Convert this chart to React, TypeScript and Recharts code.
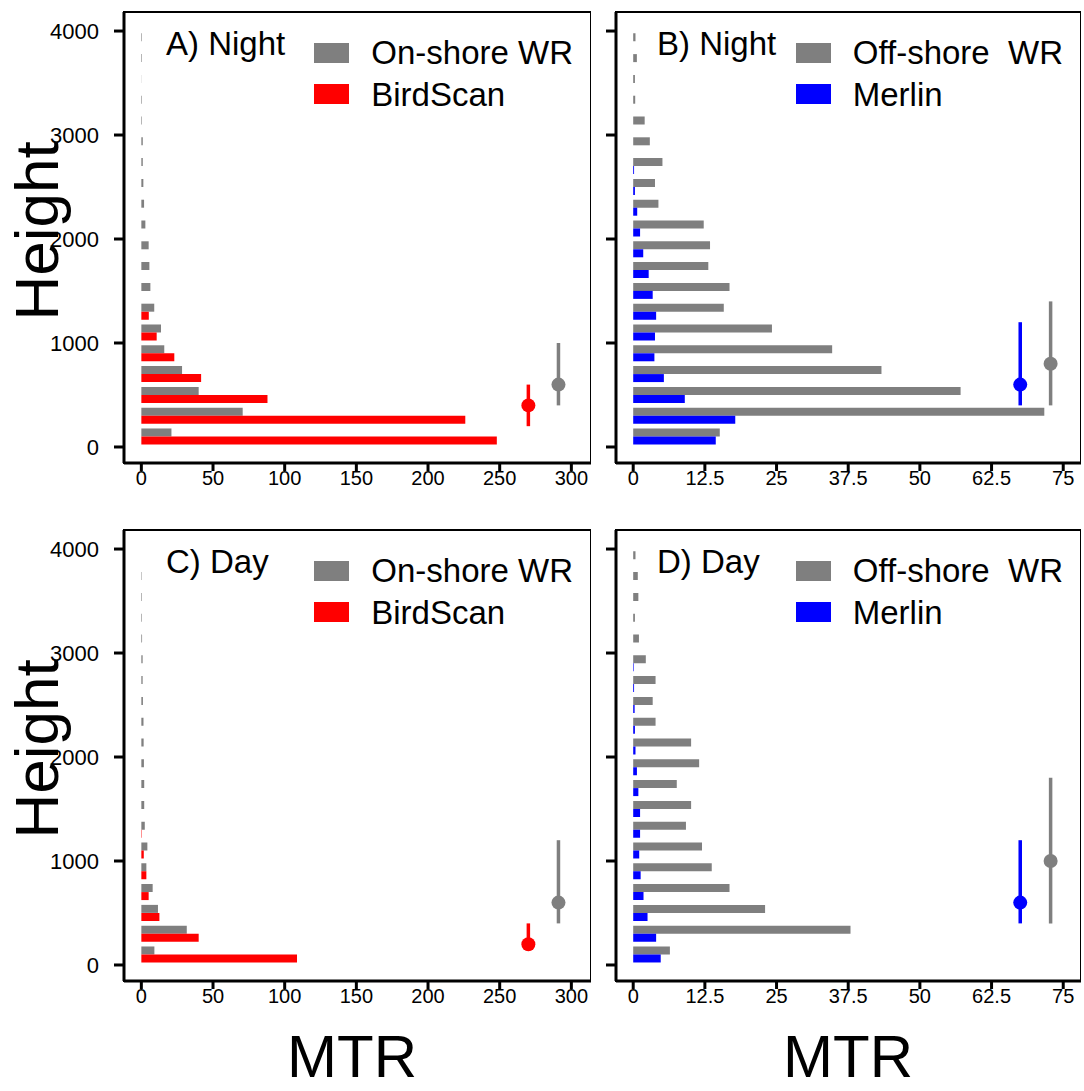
import React from "react";
import {
  Bar,
  ComposedChart,
  ErrorBar,
  Legend,
  ReferenceArea,
  Scatter,
  XAxis,
  YAxis,
} from "recharts";

// 200 m altitude bins, labelled by their mid height (m)
const bins = [100, 300, 500, 700, 900, 1100, 1300, 1500, 1700, 1900, 2100, 2300, 2500, 2700, 2900, 3100, 3300, 3500, 3700, 3900];
const BIN_SIZE = 200;

// MTR per bin, lowest bin first
const nightOnshore = [21, 70.7, 40, 28.4, 16, 13.7, 9, 6.3, 5.6, 5.1, 2.8, 1.9, 1.4, 1.0, 1.0, 0.4, 0.4, 0.1, 0.4, 0.4];
const nightBirdScan = [248, 226, 88, 41.7, 23, 10.7, 5.2, 0, 0, 0, 0, 0, 0, 0, 0, 0, 0, 0, 0, 0];
const nightOffshore = [15.1, 71.7, 57.1, 43.3, 34.7, 24.2, 15.8, 16.8, 13.1, 13.4, 12.3, 4.4, 3.8, 5.1, 2.9, 2.0, 0.35, 0.3, 0.64, 0.4];
const nightMerlin = [14.4, 17.8, 9.0, 5.35, 3.7, 3.8, 4.0, 3.4, 2.7, 1.75, 1.2, 0.7, 0.3, 0.15, 0, 0, 0, 0, 0, 0];
const dayOnshore = [9.1, 31.7, 11.6, 7.9, 3.5, 4.2, 2.4, 2.0, 2.0, 1.8, 1.6, 1.5, 1.1, 0.9, 0.9, 0.5, 0.4, 0.4, 0.3, 0];
const dayBirdScan = [108.6, 40, 12.6, 5.1, 3.5, 1.7, 0.3, 0, 0, 0, 0, 0, 0, 0, 0, 0, 0, 0, 0, 0];
const dayOffshore = [6.4, 37.9, 23, 16.8, 13.7, 12.0, 9.2, 10.1, 7.6, 11.5, 10.1, 3.9, 3.4, 3.9, 2.2, 1.0, 0.3, 0.9, 0.8, 0.4];
const dayMerlin = [4.8, 4.0, 2.5, 1.8, 1.3, 1.05, 1.2, 1.2, 0.9, 0.65, 0.4, 0.3, 0.25, 0.15, 0.1, 0, 0, 0, 0, 0];

// median height with [below, above] spread, drawn at the right edge of each panel
const nightBirdScanMid = [{ x: 270, h: 400, spread: [200, 200] }];
const nightOnshoreMid = [{ x: 291, h: 600, spread: [200, 400] }];
const nightMerlinMid = [{ x: 67.5, h: 600, spread: [200, 600] }];
const nightOffshoreMid = [{ x: 72.8, h: 800, spread: [400, 600] }];
const dayBirdScanMid = [{ x: 270, h: 200, spread: [0, 200] }];
const dayOnshoreMid = [{ x: 291, h: 600, spread: [200, 600] }];
const dayMerlinMid = [{ x: 67.5, h: 600, spread: [200, 600] }];
const dayOffshoreMid = [{ x: 72.8, h: 1000, spread: [600, 800] }];

const heightTicks = [0, 1000, 2000, 3000, 4000];
const onshoreTicks = [0, 50, 100, 150, 200, 250, 300];
const offshoreTicks = [0, 12.5, 25, 37.5, 50, 62.5, 75];

const FONT = '"Liberation Sans", Arial, sans-serif';
const GRAY = "#7f7f7f";
const PLOT_H = 451;
const AXIS_W = 110;
const X_AXIS_H = 40;
const TOP_GAP = 12;
const HEIGHT_DOMAIN: [number, number] = [-154, 4183];

const span = HEIGHT_DOMAIN[1] - HEIGHT_DOMAIN[0];
const lowEdge = bins[0] - BIN_SIZE / 2;
const highEdge = bins[bins.length - 1] + BIN_SIZE / 2;
const padBottom = ((lowEdge - HEIGHT_DOMAIN[0]) / span) * PLOT_H;
const padTop = ((HEIGHT_DOMAIN[1] - highEdge) / span) * PLOT_H;

function LegendBox({ payload }: any) {
  // weather radar first, then the bird radar
  const items = [...(payload ?? [])].sort((a: any, b: any) => (a.dataKey === "wr" ? -1 : 0) - (b.dataKey === "wr" ? -1 : 0));
  return (
    <div>
      {items.map((item: any) => (
        <div key={item.value} style={{ display: "flex", alignItems: "center", height: 41.5 }}>
          <span style={{ width: 35, height: 20, background: item.color, marginRight: 22, flex: "none" }} />
          <span style={{ fontSize: 33, lineHeight: 1, whiteSpace: "pre", color: "#000", fontFamily: FONT }}>
            {item.value}
          </span>
        </div>
      ))}
    </div>
  );
}

type PanelProps = {
  left: number;
  top: number;
  width: number;
  xDomain: [number, number];
  xTicks: number[];
  heightLabels: boolean;
  wrName: string;
  wrValues: number[];
  wrMid: { x: number; h: number; spread: number[] }[];
  radarName: string;
  radarValues: number[];
  radarMid: { x: number; h: number; spread: number[] }[];
  color: string;
};

function Panel(p: PanelProps) {
  const rows = bins.map((bin, i) => ({ bin, wr: p.wrValues[i], radar: p.radarValues[i] }));
  const axisStroke = { stroke: "#000", strokeWidth: 3 };
  const dot = (fill: string) => (s: any) => <circle cx={s.cx} cy={s.cy} r={7} fill={fill} />;

  return (
    <div style={{ position: "absolute", left: p.left - AXIS_W, top: p.top - TOP_GAP }}>
      <ComposedChart
        layout="vertical"
        width={AXIS_W + p.width}
        height={TOP_GAP + PLOT_H + X_AXIS_H}
        data={rows}
        margin={{ top: TOP_GAP, right: 0, bottom: 0, left: 0 }}
        barGap={0}
        barCategoryGap="11%"
      >
        <XAxis
          type="number"
          dataKey="x"
          domain={p.xDomain}
          ticks={p.xTicks}
          interval={0}
          allowDataOverflow
          height={X_AXIS_H}
          tickSize={8}
          tickMargin={0}
          axisLine={axisStroke}
          tickLine={axisStroke}
          tick={{ fill: "#000", fontSize: 20 }}
        />
        <YAxis
          yAxisId="h"
          type="number"
          dataKey="h"
          reversed
          domain={HEIGHT_DOMAIN}
          ticks={heightTicks}
          interval={0}
          allowDataOverflow
          width={AXIS_W}
          tickSize={10}
          tickMargin={15}
          axisLine={axisStroke}
          tickLine={axisStroke}
          tick={{ fill: "#000", fontSize: 22 }}
          tickFormatter={p.heightLabels ? (v: number) => String(v) : () => ""}
        />
        <YAxis
          yAxisId="bin"
          type="category"
          dataKey="bin"
          hide
          width={0}
          orientation="right"
          reversed
          padding={{ top: padTop, bottom: padBottom }}
        />
        <ReferenceArea
          yAxisId="h"
          x1={p.xDomain[0]}
          x2={p.xDomain[1]}
          y1={HEIGHT_DOMAIN[0]}
          y2={HEIGHT_DOMAIN[1]}
          fill="none"
          fillOpacity={0}
          stroke="#000"
          strokeWidth={2}
        />
        <Bar yAxisId="bin" dataKey="wr" name={p.wrName} fill={GRAY} isAnimationActive={false} />
        <Bar yAxisId="bin" dataKey="radar" name={p.radarName} fill={p.color} isAnimationActive={false} />
        <Scatter yAxisId="h" data={p.radarMid} legendType="none" shape={dot(p.color)} isAnimationActive={false}>
          <ErrorBar dataKey="spread" direction="y" width={0} stroke={p.color} strokeWidth={3.5} />
        </Scatter>
        <Scatter yAxisId="h" data={p.wrMid} legendType="none" shape={dot(GRAY)} isAnimationActive={false}>
          <ErrorBar dataKey="spread" direction="y" width={0} stroke={GRAY} strokeWidth={3.5} />
        </Scatter>
        <Legend
          layout="vertical"
          align="center"
          verticalAlign="middle"
          itemSorter={(item: any) => (item.dataKey === "wr" ? 0 : 1)}
          content={<LegendBox />}
          wrapperStyle={{ top: 32, right: 18 }}
        />
      </ComposedChart>
    </div>
  );
}

export default function App() {
  return (
    <div
      style={{
        position: "absolute",
        left: 0,
        top: 0,
        width: 1084,
        height: 1091,
        background: "#fff",
        fontFamily: FONT,
      }}
    >
      <Panel
        left={124}
        top={12}
        width={467}
        xDomain={[-12.1, 313.7]}
        xTicks={onshoreTicks}
        heightLabels
        wrName="On-shore WR"
        wrValues={nightOnshore}
        wrMid={nightOnshoreMid}
        radarName="BirdScan"
        radarValues={nightBirdScan}
        radarMid={nightBirdScanMid}
        color="#ff0000"
      />
      <Panel
        left={616}
        top={12}
        width={465}
        xDomain={[-3.0, 78.1]}
        xTicks={offshoreTicks}
        heightLabels={false}
        wrName="Off-shore  WR"
        wrValues={nightOffshore}
        wrMid={nightOffshoreMid}
        radarName="Merlin"
        radarValues={nightMerlin}
        radarMid={nightMerlinMid}
        color="#0000ff"
      />
      <Panel
        left={124}
        top={530}
        width={467}
        xDomain={[-12.1, 313.7]}
        xTicks={onshoreTicks}
        heightLabels
        wrName="On-shore WR"
        wrValues={dayOnshore}
        wrMid={dayOnshoreMid}
        radarName="BirdScan"
        radarValues={dayBirdScan}
        radarMid={dayBirdScanMid}
        color="#ff0000"
      />
      <Panel
        left={616}
        top={530}
        width={465}
        xDomain={[-3.0, 78.1]}
        xTicks={offshoreTicks}
        heightLabels={false}
        wrName="Off-shore  WR"
        wrValues={dayOffshore}
        wrMid={dayOffshoreMid}
        radarName="Merlin"
        radarValues={dayMerlin}
        radarMid={dayMerlinMid}
        color="#0000ff"
      />
      <svg
        width={1084}
        height={1091}
        style={{ position: "absolute", left: 0, top: 0, pointerEvents: "none" }}
        fontFamily={FONT}
      >
        <text x={166} y={55} fontSize={33}>A) Night</text>
        <text x={657} y={55} fontSize={33}>B) Night</text>
        <text x={166} y={573} fontSize={33}>C) Day</text>
        <text x={657} y={573} fontSize={33}>D) Day</text>
        <text transform="translate(58,231) rotate(-90)" textAnchor="middle" fontSize={62}>Height</text>
        <text transform="translate(58,749) rotate(-90)" textAnchor="middle" fontSize={62}>Height</text>
        <text x={352} y={1077} textAnchor="middle" fontSize={60}>MTR</text>
        <text x={848} y={1077} textAnchor="middle" fontSize={60}>MTR</text>
      </svg>
    </div>
  );
}
